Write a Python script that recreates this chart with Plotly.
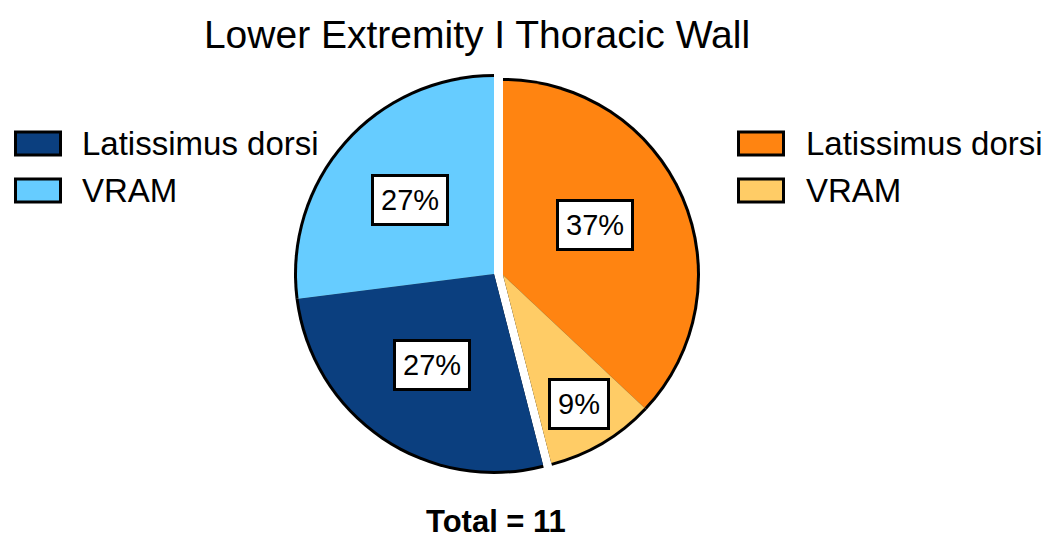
import math
import plotly.graph_objects as go

# ---------------- data ----------------
slice_labels = [
    "Thoracic Wall – Latissimus dorsi",
    "Thoracic Wall – VRAM",
    "Lower Extremity – Latissimus dorsi",
    "Lower Extremity – VRAM",
]
flap_names = ["Latissimus dorsi", "VRAM", "Latissimus dorsi", "VRAM"]
percentages = [37, 9, 27, 27]
slice_group = ["right", "right", "left", "left"]
total_n = 11
title_text = "Lower Extremity I Thoracic Wall"

# ---------------- style ----------------
slice_colors = ["#FF8411", "#FFCC66", "#0B3F7F", "#66CCFF"]
label_radius = [0.54, 0.77, 0.56, 0.57]     # fraction of radius for the % boxes
label_angle_shift = [-5, 0, 0, 0]           # degrees, small manual nudges
W, H = 1045, 538
FONT = "Liberation Sans, Arial, Helvetica, sans-serif"
TRANSPARENT = "rgba(0,0,0,0)"
OUTLINE = 3

# pie half geometry in pixels: centre x, centre y, fill radius
halves = {
    "left": (494, 274, 197),
    "right": (503, 275, 194),
}


def px(x, y):
    return x / W, 1 - y / H


def dom(cx, cy, r):
    return dict(x=[(cx - r) / W, (cx + r) / W], y=[1 - (cy + r) / H, 1 - (cy - r) / H])


fig = go.Figure()

for group, (cx, cy, r) in halves.items():
    # black outline wedge (slightly larger) underneath
    fig.add_trace(go.Pie(
        values=percentages, labels=slice_labels, sort=False, direction="clockwise",
        rotation=0, textinfo="none", hoverinfo="skip", showlegend=False,
        marker=dict(colors=["black" if g == group else TRANSPARENT for g in slice_group],
                    line=dict(width=0)),
        domain=dom(cx, cy, r + OUTLINE),
    ))
    # coloured slices on top
    fig.add_trace(go.Pie(
        values=percentages, labels=slice_labels, sort=False, direction="clockwise",
        rotation=0, textinfo="none", showlegend=False,
        hovertemplate="%{label}: %{value}%<extra></extra>",
        marker=dict(colors=[c if g == group else TRANSPARENT
                            for c, g in zip(slice_colors, slice_group)],
                    line=dict(width=0)),
        domain=dom(cx, cy, r),
    ))

annotations = []
# percentage boxes, placed at each slice's mid angle
total = sum(percentages)
cum = 0
for v, g, frac, shift in zip(percentages, slice_group, label_radius, label_angle_shift):
    cx, cy, r = halves[g]
    mid = (cum + v / 2) / total * 2 * math.pi + math.radians(shift)
    cum += v
    x = cx + frac * r * math.sin(mid)
    y = cy - frac * r * math.cos(mid)
    xp, yp = px(x, y)
    annotations.append(dict(
        x=xp, y=yp, xref="paper", yref="paper", text=f"{v}%", showarrow=False,
        xanchor="center", yanchor="middle",
        font=dict(family=FONT, size=29, color="black"),
        bgcolor="white", bordercolor="black", borderwidth=3, borderpad=7,
    ))

# manual legends
shapes = []
legend_rows = {"left": [2, 3], "right": [0, 1]}
legend_pos = {"left": (14, 80), "right": (737, 804)}
row_y = [143.5, 190.5]
for side, idxs in legend_rows.items():
    sx, tx = legend_pos[side]
    for i, ry in zip(idxs, row_y):
        x0, y0 = px(sx + 1.5, ry - 11.5)
        x1, y1 = px(sx + 46.5, ry + 11.5)
        shapes.append(dict(type="rect", xref="paper", yref="paper",
                           x0=x0, x1=x1, y0=y0, y1=y1,
                           fillcolor=slice_colors[i], line=dict(color="black", width=3)))
        tx_p, ty_p = px(tx, ry)
        annotations.append(dict(
            x=tx_p, y=ty_p, xref="paper", yref="paper", text=flap_names[i],
            showarrow=False, xanchor="left", yanchor="middle",
            font=dict(family=FONT, size=33, color="black"),
        ))

# total
tx_p, ty_p = px(496, 521)
annotations.append(dict(
    x=tx_p, y=ty_p, xref="paper", yref="paper", text=f"<b>Total = {total_n}</b>",
    showarrow=False, xanchor="center", yanchor="middle",
    font=dict(family=FONT, size=31, color="black"),
))

tx_p, ty_p = px(477, 34)
fig.update_layout(
    width=W, height=H, autosize=False,
    margin=dict(l=0, r=0, t=0, b=0),
    paper_bgcolor="white", plot_bgcolor="white",
    title=dict(text=title_text, x=tx_p, y=ty_p, xref="paper", yref="paper",
               xanchor="center", yanchor="middle",
               font=dict(family=FONT, size=39, color="black")),
    annotations=annotations, shapes=shapes,
    showlegend=False,
)

fig.write_html(
    "out.html",
    config={"displayModeBar": False},
    post_script="document.body.style.margin='0';document.body.style.overflow='hidden';",
)
